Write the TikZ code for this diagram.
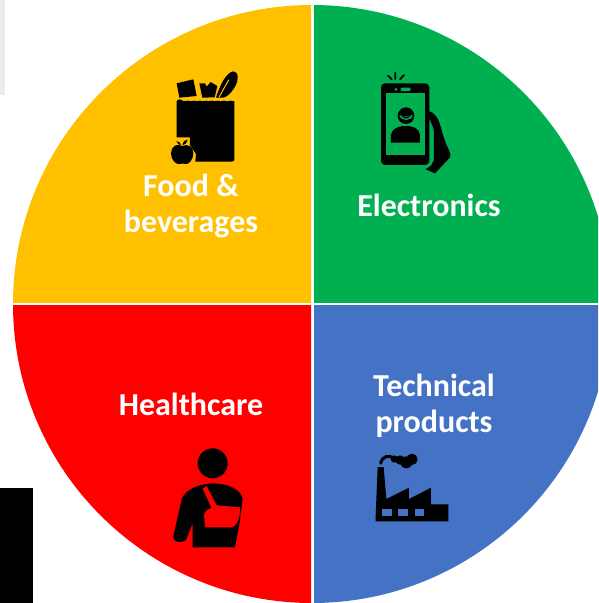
\documentclass[tikz,border=0pt]{standalone}
\usepackage{fontspec}
\setmainfont{Carlito}
\definecolor{cFood}{HTML}{FFC000}
\definecolor{cElec}{HTML}{00B050}
\definecolor{cHealth}{HTML}{FF0000}
\definecolor{cTech}{HTML}{4472C4}
\tikzset{
  label text/.style={text=white,font=\fontsize{32}{36}\selectfont\bfseries,align=center,inner sep=0pt},
  zoomA/.style={shift={(140,60)},x=0.3333pt,y=-0.3333pt},
  zoomB/.style={shift={(360,60)},x=0.3333pt,y=-0.3333pt},
  zoomC/.style={shift={(160,440)},x=0.3333pt,y=-0.3333pt},
  zoomD/.style={shift={(365,445)},x=0.3333pt,y=-0.3333pt},
}
\begin{document}
\begin{tikzpicture}[x=1pt,y=-1pt]
\useasboundingbox (0,0) rectangle (598,603);
\fill[white] (0,0) rectangle (598,603);
\fill[black!8] (0,0) rectangle (5,95);
\fill[black] (0,488) rectangle (33,603);
\begin{scope}
\clip (0,0) rectangle (598,603);
\begin{scope}\clip (0,0) rectangle (311,302.5); \fill[cFood] (312,304) circle (299); \end{scope}
\begin{scope}\clip (314,0) rectangle (598,302.5); \fill[cElec] (312,304) circle (299); \end{scope}
\begin{scope}\clip (0,305.5) rectangle (311,603); \fill[cHealth] (312,304) circle (299); \end{scope}
\begin{scope}\clip (314,305.5) rectangle (598,603); \fill[cTech] (312,304) circle (299); \end{scope}
\end{scope}
% grocery bag
\begin{scope}[zoomA]
\fill[black] (110,70) -- (160,58) -- (170,108) -- (118,113) -- cycle;
\fill[black] (178,70) -- (195,70) -- (200,80) -- (212,66) -- (232,78) -- (224,112) -- (187,113) -- cycle;
\fill[black] (228,113) .. controls (240,75) and (258,38) .. (280,34) .. controls (298,34) and (296,65) .. (282,85) .. controls (272,100) and (262,110) .. (250,113) -- cycle;
\draw[cFood,line width=1pt,line cap=round] (238,110) -- (266,60);
\fill[black] (110,124) .. controls (116,116) and (122,116) .. (128,122) .. controls (134,128) and (140,118) .. (146,122) .. controls (152,128) and (158,118) .. (164,122) .. controls (170,128) and (176,118) .. (182,122) .. controls (188,128) and (194,118) .. (200,122) .. controls (206,128) and (212,118) .. (218,122) .. controls (224,128) and (230,118) .. (236,122) .. controls (242,128) and (248,118) .. (254,122) .. controls (260,128) and (268,118) .. (283,124) -- (283,298) .. controls (283,303) and (280,305) .. (276,305) -- (166,305) -- (168,282) -- (150,256) -- (150,232) -- (110,232) -- cycle;
\fill[black] (127,258) .. controls (110,248) and (93,260) .. (93,280) .. controls (93,300) and (108,315) .. (120,312) .. controls (125,310) and (130,310) .. (135,312) .. controls (147,315) and (160,298) .. (160,280) .. controls (160,260) and (143,250) .. (127,258) -- cycle;
\fill[black] (124,256) .. controls (122,248) and (116,244) .. (109,243) .. controls (112,251) and (117,255) .. (124,256) -- cycle;
\fill[black] (128,256) .. controls (128,246) and (134,240) .. (143,238) .. controls (142,247) and (137,254) .. (128,256) -- cycle;
\end{scope}
% phone
\begin{scope}[zoomB]
\fill[black,rounded corners=4pt] (63,70) rectangle (208,315);
\fill[cElec] (78,100) rectangle (195,285);
\fill[cElec] (108,88) circle (4.5);
\fill[cElec,rounded corners=1pt] (122,83) rectangle (152,93);
\fill[black] (138,167) circle (25);
\fill[cElec] (118,165) .. controls (125,170) and (150,170) .. (158,165) .. controls (155,185) and (122,185) .. (118,165) -- cycle;
\fill[black] (125,168) .. controls (130,171) and (146,171) .. (151,168) .. controls (147,178) and (129,178) .. (125,168) -- cycle;
\fill[black] (93,248) -- (93,225) .. controls (95,205) and (115,198) .. (138,198) .. controls (160,198) and (178,205) .. (180,225) -- (180,248) -- cycle;
\draw[black,line width=1.7pt,line cap=round] (106,38) -- (106,57) (84,47) -- (95,58) (132,45) -- (120,58);
\fill[black] (197,155) .. controls (212,150) and (225,160) .. (235,180) .. controls (245,205) and (250,235) .. (262,260) .. controls (268,272) and (274,285) .. (270,292) -- (225,340) .. controls (215,335) and (205,332) .. (197,328) -- (214,316) -- (222,300) -- (222,215) .. controls (218,190) and (205,175) .. (197,155) -- cycle;
\end{scope}
% person with sling
\begin{scope}[zoomC]
\fill[black] (158,70) circle (45);
\fill[black] (40,288) -- (66,175) .. controls (75,155) and (100,135) .. (155,130) .. controls (200,130) and (240,145) .. (248,175) -- (240,240) .. controls (235,270) and (230,295) .. (225,322) -- (98,322) -- (98,250) -- (80,295) .. controls (75,312) and (38,310) .. (40,288) -- cycle;
\fill[cHealth] (128,146) -- (140,138) -- (170,196) -- (240,202) .. controls (240,235) and (232,255) .. (218,262) -- (135,262) -- (132,225) .. controls (135,212) and (145,207) .. (154,203) -- cycle;
\end{scope}
% factory
\begin{scope}[zoomD]
\fill[black] (32,212) -- (38,66) -- (56,66) -- (64,162) -- (132,128) -- (132,162) -- (198,128) -- (198,178) -- (250,178) -- (250,229) -- (32,229) -- cycle;
\fill[cTech] (52,191) rectangle (80,212);
\fill[cTech] (100,191) rectangle (129,212);
\fill[cTech] (149,191) rectangle (177,212);
\fill[black] (88,42) circle (11);
\fill[black] (105,45) circle (14);
\fill[black] (124,52) circle (18);
\fill[black] (141,43) circle (17);
\draw[black,line width=3pt,line cap=round] (47,55) .. controls (52,33) and (70,28) .. (92,42);
\end{scope}
\node[label text] (food) at (191,205.5) {Food \&\\beverages};
\node[label text] (electronics) at (429,205) {Electronics};
\node[label text] (healthcare) at (191,404) {Healthcare};
\node[label text] (technical) at (434,405.5) {Technical\\products};
\end{tikzpicture}
\end{document}
